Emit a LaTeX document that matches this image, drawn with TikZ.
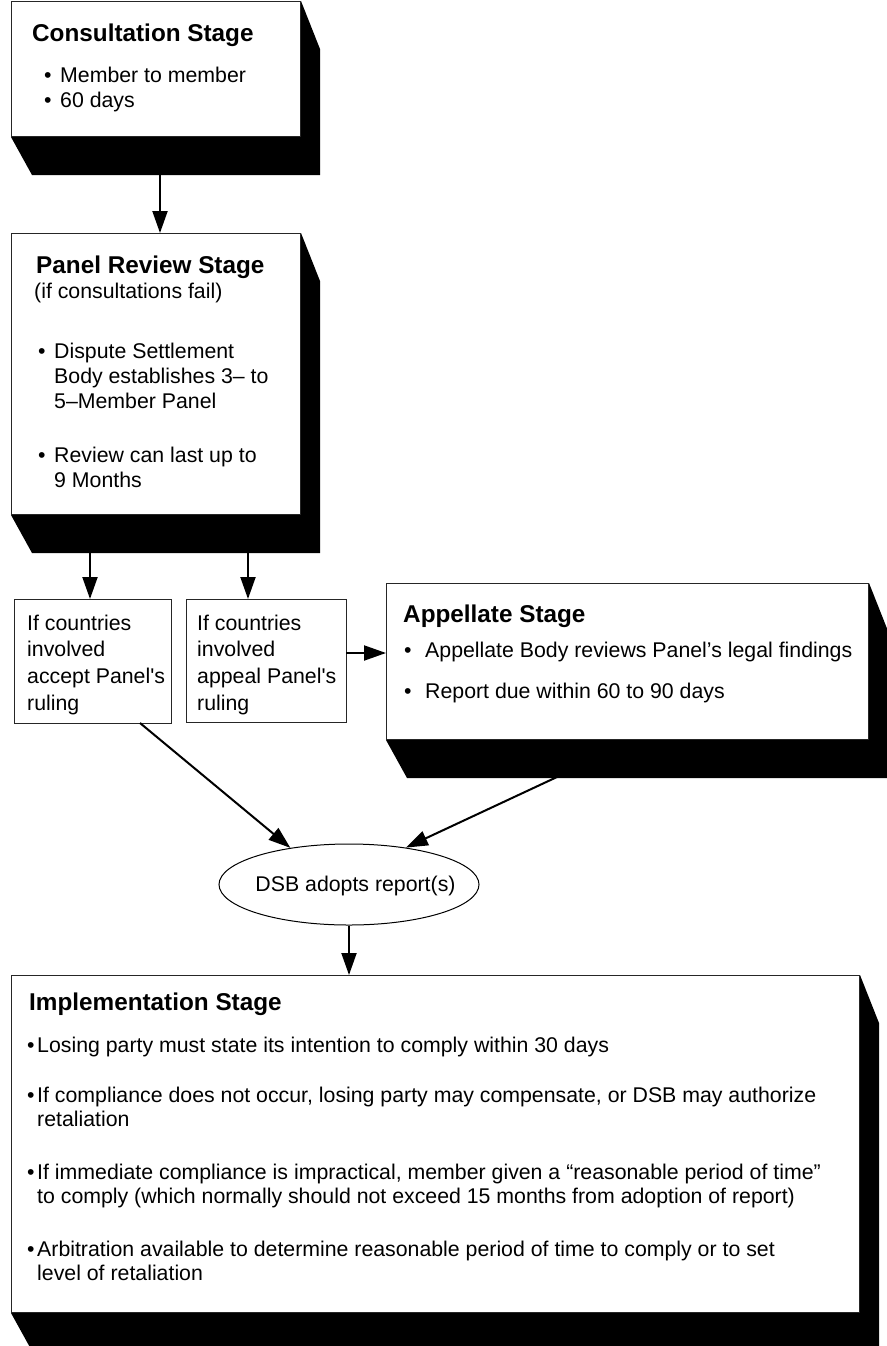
\documentclass[tikz,border=0pt]{standalone}
\usepackage{fontspec}
\setmainfont{Liberation Sans}
\usetikzlibrary{arrows.meta,shapes.geometric,backgrounds,calc}
\newcommand\boxshadow[1]{\fill[black] (#1.south west) -- ++(21,38) -- ($(#1.south east)+(19,38)$) -- ($(#1.north east)+(19,48)$) -- (#1.north east) -- (#1.south east) -- cycle;}
\begin{document}
\begin{tikzpicture}[x=1pt,y=-1pt,
  box/.style={draw=black!85, line width=1pt, fill=white, inner sep=0pt, anchor=north west},
  ttl/.style={anchor=base west, inner sep=0pt, font=\fontsize{24.3}{28}\selectfont\bfseries},
  txt/.style={anchor=base west, inner sep=0pt, font=\fontsize{21.3}{25}\selectfont},
  arr/.style={line width=2pt, -{Triangle[length=22pt,width=15pt]}}]
\useasboundingbox (0,0) rectangle (886,1346);
\begin{pgfonlayer}{background}
\fill[white] (0,0) rectangle (886,1346);
\end{pgfonlayer}
% boxes
\node[box, minimum width=289pt, minimum height=135pt] (cons) at (11,1) {};
\node[box, minimum width=289pt, minimum height=281pt] (panel) at (11,233) {};
\node[box, minimum width=157pt, minimum height=124pt] (acc) at (14,599) {};
\node[box, minimum width=160pt, minimum height=123pt] (apl) at (186,599) {};
\node[box, minimum width=482pt, minimum height=156pt] (app) at (386,583) {};
\node[box, minimum width=848pt, minimum height=337pt] (impl) at (11,975) {};
\node[draw=black, line width=1pt, ellipse, minimum width=260pt, minimum height=81pt, inner sep=0pt] (dsb) at (349,884.5) {};
\node[txt, anchor=base] (dsbT) at (355.5,891.5) {DSB adopts report(s)};
\begin{pgfonlayer}{background}
\boxshadow{cons}
\boxshadow{panel}
\boxshadow{app}
\boxshadow{impl}
\end{pgfonlayer}
% consultation text
\node[ttl] (consT) at (32,42) {Consultation Stage};
\node[txt] (consB1) at (44,82) {•};
\node[txt] (consL1) at (60,82) {Member to member};
\node[txt] (consB2) at (44,107) {•};
\node[txt] (consL2) at (60,107) {60 days};
% panel text
\node[ttl] (panT) at (36,273) {Panel Review Stage};
\node[txt] (panS) at (34,298) {(if consultations fail)};
\node[txt] (panB1) at (38,358) {•};
\node[txt] (panL1) at (54,358) {Dispute Settlement};
\node[txt] (panL2) at (54,383) {Body establishes 3– to};
\node[txt] (panL3) at (54,408) {5–Member Panel};
\node[txt] (panB2) at (38,462) {•};
\node[txt] (panL4) at (54,462) {Review can last up to};
\node[txt] (panL5) at (54,487) {9 Months};
% small boxes
\node[txt] (accL1) at (27,630) {If countries};
\node[txt] (accL2) at (27,656.7) {involved};
\node[txt] (accL3) at (27,683.3) {accept Panel\textquotesingle s};
\node[txt] (accL4) at (27,710) {ruling};
\node[txt] (aplL1) at (197,630) {If countries};
\node[txt] (aplL2) at (197,656.7) {involved};
\node[txt] (aplL3) at (197,683.3) {appeal Panel\textquotesingle s};
\node[txt] (aplL4) at (197,710) {ruling};
% appellate text
\node[ttl] (appT) at (403,622) {Appellate Stage};
\node[txt] (appB1) at (404,657) {•};
\node[txt] (appL1) at (425,657) {Appellate Body reviews Panel’s legal findings};
\node[txt] (appB2) at (404,698) {•};
\node[txt] (appL2) at (425,698) {Report due within 60 to 90 days};
% implementation text
\node[ttl] (impT) at (29,1010) {Implementation Stage};
\node[txt] (impB1) at (27,1052) {•};
\node[txt] (impL1) at (37,1052) {Losing party must state its intention to comply within 30 days};
\node[txt] (impB2) at (27,1102) {•};
\node[txt] (impL2) at (37,1102) {If compliance does not occur, losing party may compensate, or DSB may authorize};
\node[txt] (impL3) at (37,1126) {retaliation};
\node[txt] (impB3) at (27,1179) {•};
\node[txt] (impL4) at (37,1179) {If immediate compliance is impractical, member given a “reasonable period of time”};
\node[txt] (impL5) at (37,1203) {to comply (which normally should not exceed 15 months from adoption of report)};
\node[txt] (impB4) at (27,1256) {•};
\node[txt] (impL6) at (37,1256) {Arbitration available to determine reasonable period of time to comply or to set};
\node[txt] (impL7) at (37,1280) {level of retaliation};
% connectors
\coordinate (c1) at (160,174);
\draw[arr] (c1) -- (c1 |- panel.north);
\coordinate (p1) at (90,552);
\draw[arr] (p1) -- (p1 |- acc.north);
\coordinate (p2) at (248,552);
\draw[arr] (p2) -- (p2 |- apl.north);
\coordinate (a1) at (346,653);
\draw[arr] (a1) -- (a1 -| app.west);
\coordinate (d1) at (140,723);
\draw[arr] (d1) -- (dsb.148);
\coordinate (d2) at (557,777);
\draw[arr] (d2) -- (dsb.33);
\draw[arr] (dsb.south) -- (dsb.south |- impl.north);
\end{tikzpicture}
\end{document}
